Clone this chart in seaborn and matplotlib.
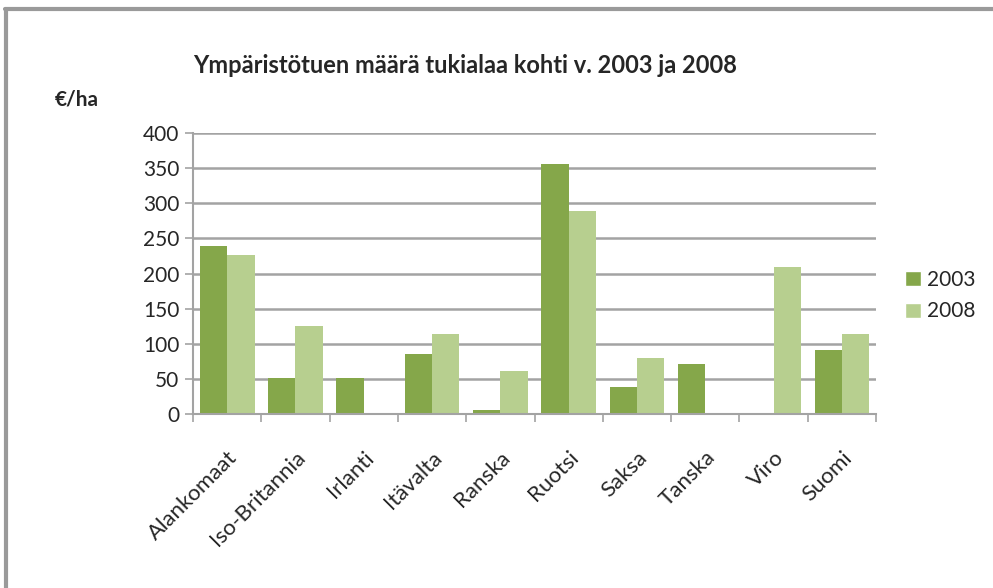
import matplotlib
matplotlib.use("Agg")
import matplotlib.pyplot as plt
import numpy as np
import pandas as pd
import seaborn as sns
from matplotlib.lines import Line2D
from matplotlib.patches import Patch

# data (EUR per hectare)
countries = ["Alankomaat", "Iso-Britannia", "Irlanti", "Itävalta", "Ranska",
             "Ruotsi", "Saksa", "Tanska", "Viro", "Suomi"]
years = ["2003", "2008"]
values_2003 = [239, 51, 51, 86, 5, 356, 38, 71, 0, 91]
values_2008 = [227, 125, 2, 114, 61, 289, 80, 0, 209, 114]
y_ticks = [0, 50, 100, 150, 200, 250, 300, 350, 400]
colors = ["#85a74a", "#b7cf8f"]

df = pd.DataFrame({
    "maa": countries * 2,
    "vuosi": [years[0]] * len(countries) + [years[1]] * len(countries),
    "tuki": values_2003 + values_2008,
})

sns.set_style("white")
plt.rcParams["font.family"] = ["Lato", "DejaVu Sans"]

fig = plt.figure(figsize=(9.93, 5.88), dpi=100)
ax = fig.add_axes([0.1944, 0.2959, 0.6878, 0.4779])

sns.barplot(data=df, x="maa", y="tuki", hue="vuosi", palette=colors,
            width=0.8, gap=0, saturation=1, linewidth=0, ax=ax, legend=False)

ax.set_ylim(0, 400)
ax.set_xlim(-0.5, len(countries) - 0.5)
ax.set_yticks(y_ticks)
ax.set_yticklabels([str(t) for t in y_ticks], fontsize=15)
ax.yaxis.grid(True, color="#a3a3a3", linewidth=1.8)
ax.set_axisbelow(True)
ax.tick_params(axis="y", length=6, color="#a3a3a3", width=1.2, pad=4, left=True)

# x ticks: labels at centres, tick marks at category boundaries
ax.set_xticks(np.arange(len(countries)))
ax.set_xticklabels(countries, rotation=45, ha="right", rotation_mode="anchor",
                   fontsize=16)
ax.tick_params(axis="x", which="major", length=0, pad=24)
ax.set_xticks(np.arange(len(countries) + 1) - 0.5, minor=True)
ax.tick_params(axis="x", which="minor", length=6, color="#a3a3a3", width=1.2,
               bottom=True)
ax.set_xlabel("")
ax.set_ylabel("")

for side in ["top", "right"]:
    ax.spines[side].set_visible(False)
for side in ["left", "bottom"]:
    ax.spines[side].set_color("#a3a3a3")
    ax.spines[side].set_linewidth(1.5)

handles = [Patch(facecolor=c, label=y) for c, y in zip(colors, years)]
fig.legend(handles=handles, loc="center left", bbox_to_anchor=(0.893, 0.497),
           frameon=False, fontsize=15, handlelength=0.75, handleheight=0.75,
           handletextpad=0.3, labelspacing=0.55)

fig.text(0.468, 0.889, "Ympäristötuen määrä tukialaa kohti v. 2003 ja 2008",
         ha="center", va="center", fontsize=17, fontweight="bold")
fig.text(0.055, 0.83, "€/ha", ha="left", va="center", fontsize=15,
         fontweight="bold")

# grey frame (top and left edges) around the chart area
frame = dict(color="#9a9a9a", linewidth=3, transform=fig.transFigure)
fig.lines.append(Line2D([0.005, 1.0], [0.985, 0.985], **frame))
fig.lines.append(Line2D([0.006, 0.006], [0.0, 0.985], **frame))

fig.savefig("out.png", dpi=100)
